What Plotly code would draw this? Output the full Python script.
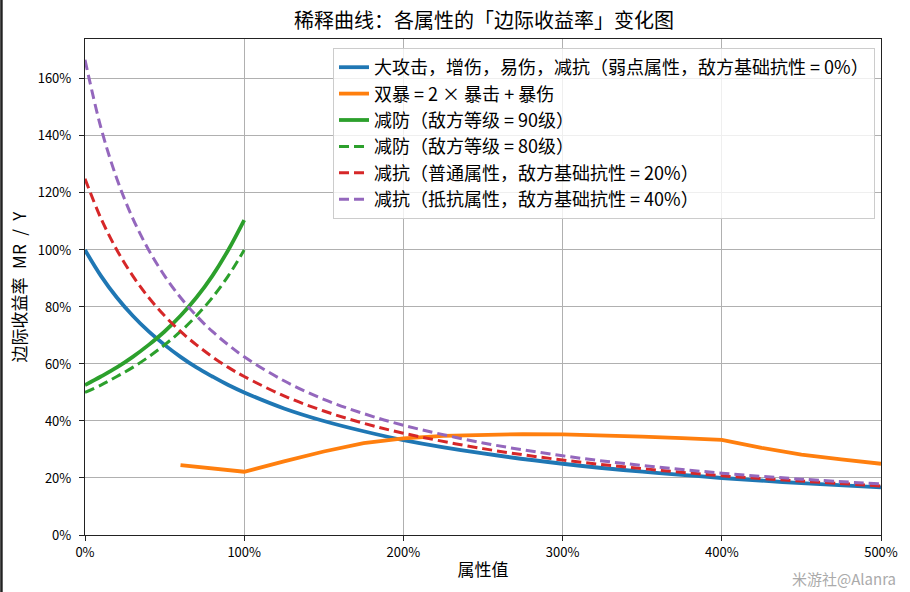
import plotly.graph_objects as go

# ---- data, x and y in percent ----
x_dec = [0, 10, 20, 30, 40, 50, 60, 70, 80, 90, 100, 125, 150, 175, 200, 250, 300, 350, 400, 450, 500]
blue_y = [100, 90.9, 83.3, 76.9, 71.4, 66.7, 62.5, 58.8, 55.6, 52.6, 50.0, 44.4, 40.0, 36.4, 33.3, 28.6, 25.0, 22.2, 20.0, 18.2, 16.7]
red_y = [125, 111.1, 100, 90.9, 83.3, 76.9, 71.4, 66.7, 62.5, 58.8, 55.6, 48.8, 43.5, 39.2, 35.7, 30.3, 26.3, 23.3, 20.8, 18.9, 17.2]
purple_y = [166.7, 142.9, 125, 111.1, 100, 90.9, 83.3, 76.9, 71.4, 66.7, 62.5, 54.1, 47.6, 42.6, 38.5, 32.3, 27.8, 24.4, 21.7, 19.6, 17.9]

x_def = [0, 10, 20, 30, 40, 50, 60, 70, 80, 90, 100]
green90_y = [52.6, 55.6, 58.8, 62.5, 66.7, 71.4, 76.9, 83.3, 90.9, 100, 110.5]
green80_y = [50.0, 52.6, 55.6, 58.8, 62.5, 66.7, 71.4, 76.9, 83.3, 90.9, 100]

x_crit = [60, 100, 125, 150, 175, 200, 225, 250, 275, 300, 325, 350, 375, 400, 425, 450, 475, 500]
orange_y = [24.5, 22.2, 25.8, 29.3, 32.2, 33.9, 34.8, 35.2, 35.4, 35.3, 35.0, 34.5, 34.0, 33.4, 30.6, 28.2, 26.5, 25.0]

names = [
    "大攻击，增伤，易伤，减抗（弱点属性，敌方基础抗性 = 0%）",
    "双暴 = 2 × 暴击 + 暴伤",
    "减防（敌方等级 = 90级）",
    "减防（敌方等级 = 80级）",
    "减抗（普通属性，敌方基础抗性 = 20%）",
    "减抗（抵抗属性，敌方基础抗性 = 40%）",
]
x_ticks = [0, 100, 200, 300, 400, 500]
y_ticks = [0, 20, 40, 60, 80, 100, 120, 140, 160]

FONT = "Noto Sans CJK SC, DejaVu Sans, sans-serif"
LW = 3.8
LWD = 3.0
DASH = "10px,5px"

fig = go.Figure()
fig.add_trace(go.Scatter(x=x_dec, y=blue_y, mode="lines", name=names[0],
                         line=dict(color="#1f77b4", width=LW, shape="spline")))
fig.add_trace(go.Scatter(x=x_crit, y=orange_y, mode="lines", name=names[1],
                         line=dict(color="#ff7f0e", width=LW)))
fig.add_trace(go.Scatter(x=x_def, y=green90_y, mode="lines", name=names[2],
                         line=dict(color="#2ca02c", width=LW, shape="spline")))
fig.add_trace(go.Scatter(x=x_def, y=green80_y, mode="lines", name=names[3],
                         line=dict(color="#2ca02c", width=LWD, dash=DASH, shape="spline")))
fig.add_trace(go.Scatter(x=x_dec, y=red_y, mode="lines", name=names[4],
                         line=dict(color="#d62728", width=LWD, dash=DASH, shape="spline")))
fig.add_trace(go.Scatter(x=x_dec, y=purple_y, mode="lines", name=names[5],
                         line=dict(color="#9467bd", width=LWD, dash=DASH, shape="spline")))

axis_common = dict(
    showgrid=True, gridcolor="#b0b0b0", gridwidth=1,
    showline=True, linecolor="#222222", linewidth=1.2, mirror=True,
    ticks="outside", ticklen=5, tickcolor="#222222", tickwidth=1,
    zeroline=False, tickfont=dict(family=FONT, size=13, color="black"),
)

fig.update_layout(
    width=910, height=592,
    margin=dict(l=85, r=27, t=39, b=57),
    paper_bgcolor="white", plot_bgcolor="white",
    font=dict(family=FONT, color="black"),
    title=dict(text="稀释曲线：各属性的「边际收益率」变化图", x=484 / 910, xanchor="center",
               y=1 - 21 / 592, yanchor="middle", font=dict(family=FONT, size=20, color="black")),
    xaxis=dict(range=[0, 500], tickvals=x_ticks, ticktext=[f"{v}%" for v in x_ticks],
               title=dict(text="属性值", font=dict(family=FONT, size=17), standoff=4), **axis_common),
    yaxis=dict(range=[0, 174], tickvals=y_ticks, ticktext=[f"{v}%" for v in y_ticks],
               ticklabelstandoff=5,
               title=dict(text="边际收益率\u2002MR\u2002/\u2002Y", font=dict(family=FONT, size=17), standoff=6),
               **axis_common),
    legend=dict(x=(877 - 85) / 798, xanchor="right", y=(535 - 48) / 496, yanchor="top",
                bgcolor="rgba(255,255,255,0.8)", bordercolor="#cccccc", borderwidth=1,
                font=dict(family=FONT, size=18, color="black"), tracegroupgap=0,
                itemwidth=30),
    showlegend=True,
)

fig.add_annotation(text="米游社@Alanra", xref="paper", yref="paper",
                   x=(900 - 85) / 798, y=-(578 - 535) / 496, xanchor="right", yanchor="middle",
                   showarrow=False, font=dict(family=FONT, size=15, color="#aaaaaa"))

# dark strip at the left edge of the reference picture
fig.add_shape(type="rect", xref="paper", yref="paper",
              x0=(0 - 85) / 798, x1=(2.5 - 85) / 798, y0=-57 / 496, y1=1 + 39 / 496,
              fillcolor="#222222", line=dict(width=0), layer="above")

fig.write_html("out.html", config={"displayModeBar": False},
               post_script="document.body.style.margin='0';document.body.style.overflow='hidden';")
